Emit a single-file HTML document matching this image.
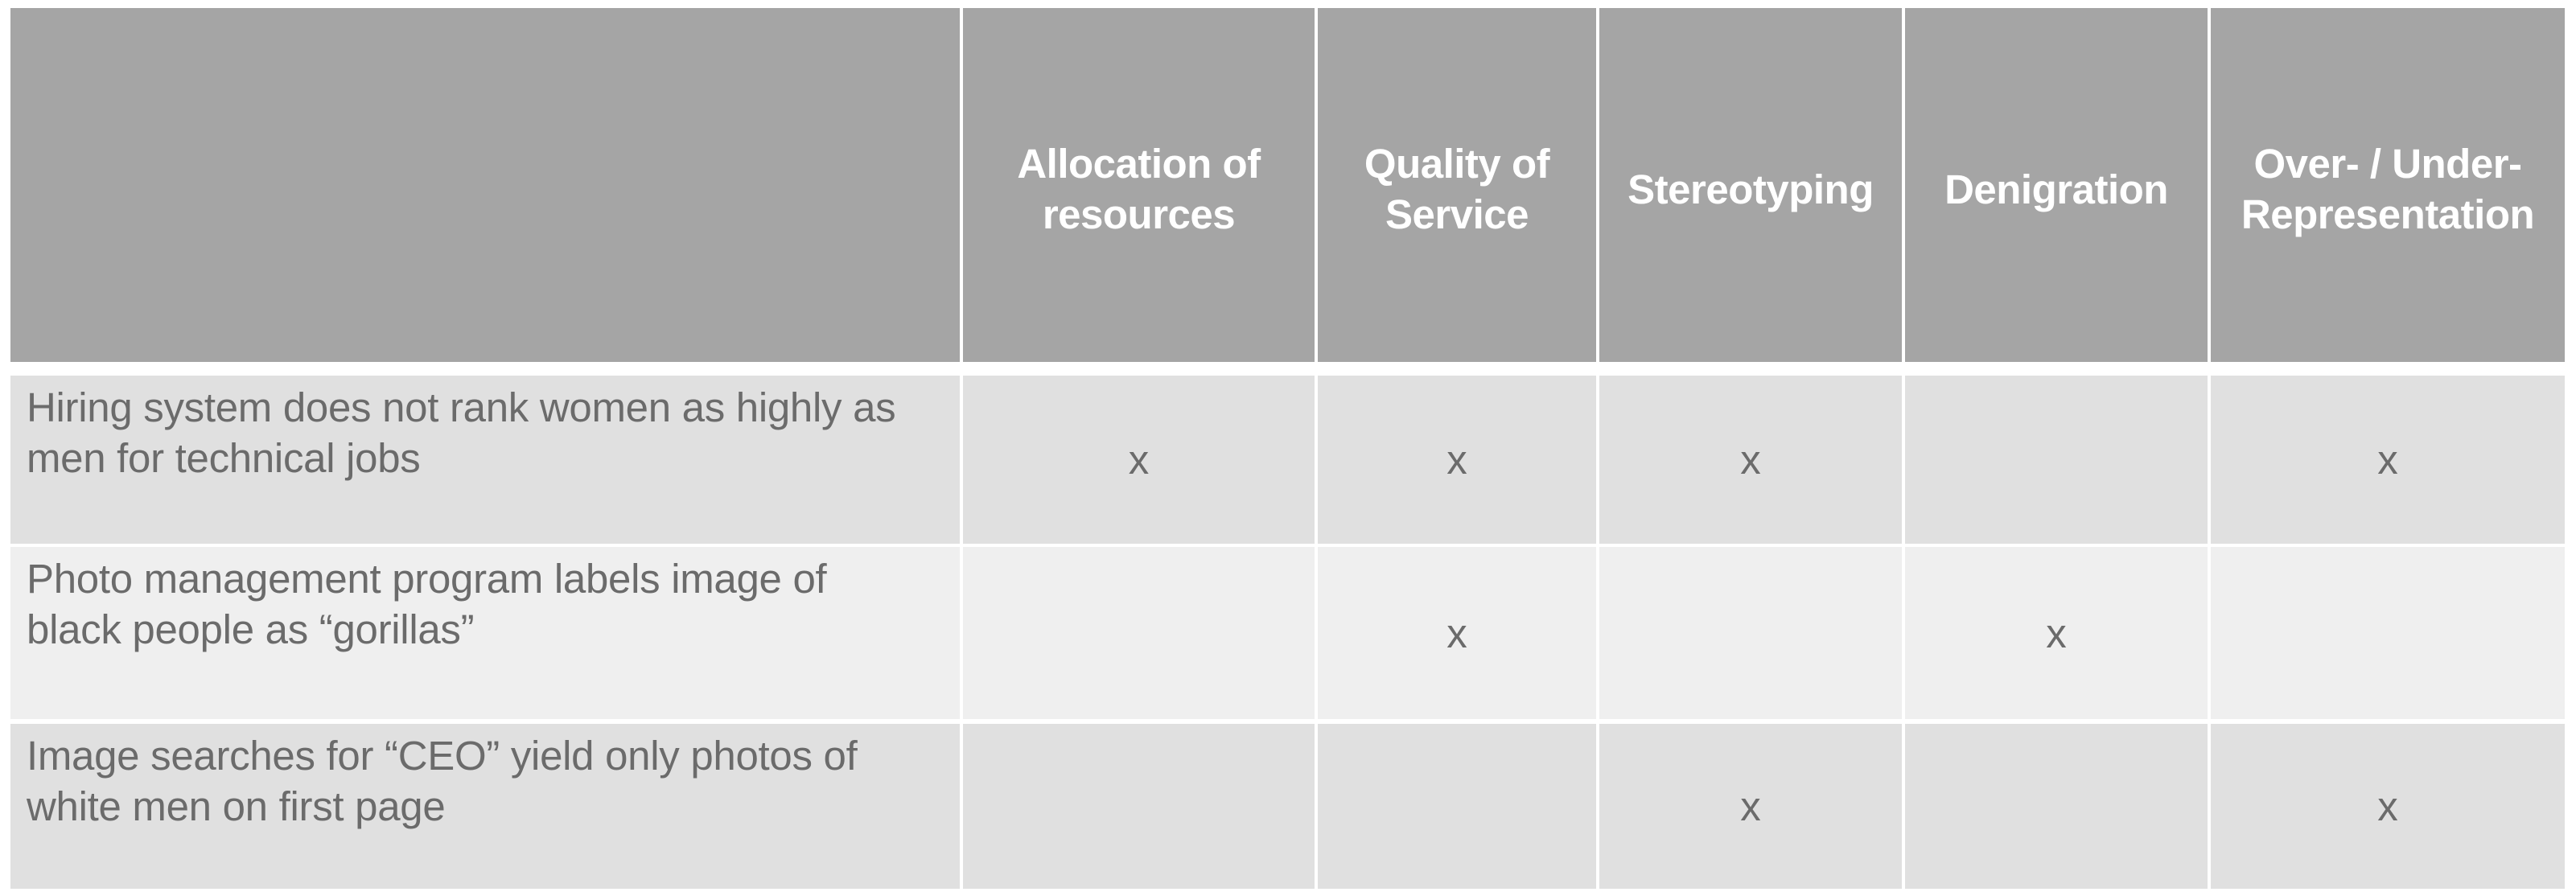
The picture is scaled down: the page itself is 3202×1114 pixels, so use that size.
<!DOCTYPE html>
<html><head><meta charset="utf-8"><style>
html,body{margin:0;padding:0;background:#fff;}
body{width:3202px;height:1114px;position:relative;overflow:hidden;font-family:"Liberation Sans",Arial,sans-serif;}
.c{position:absolute;box-sizing:border-box;}
.h{background:#a5a5a5;color:#fff;font-weight:bold;font-size:51px;line-height:63px;display:flex;align-items:center;justify-content:center;text-align:center;padding-top:10px;letter-spacing:-0.5px;}
.r{color:#6b6b6b;font-size:51px;line-height:63px;}
.d{display:flex;align-items:center;justify-content:center;}
.t{padding:8px 0 0 20px;white-space:nowrap;letter-spacing:-0.3px;}
</style></head><body>
<script>
const cats=["Allocation of<br>resources","Quality of<br>Service","Stereotyping","Denigration","Over- / Under-<br>Representation"];
const rowsText=["Hiring system does not rank women as highly as<br>men for technical jobs","Photo management program labels image of<br>black people as “gorillas”","Image searches for “CEO” yield only photos of<br>white men on first page"];
const marks=[[1,1,1,0,1],[0,1,0,1,0],[0,0,1,0,1]];
const colX=[13,1197,1638,1988,2368,2748];
const colR=[1193,1634,1984,2364,2744,3188];
const rowY=[467,680,900];
const rowB=[676,894,1105];
const rowBg=["#e0e0e0","#efefef","#e0e0e0"];
function add(cls,x,y,w,h,html,bg){const d=document.createElement('div');d.className='c '+cls;d.style.left=x+'px';d.style.top=y+'px';d.style.width=w+'px';d.style.height=h+'px';if(bg)d.style.background=bg;d.innerHTML=html;document.body.appendChild(d);return d;}
let e=add('h',colX[0],10,colR[0]-colX[0],440,'');


cats.forEach((c,i)=>{const el=add('h',colX[i+1],10,colR[i+1]-colX[i+1],440,c);

});
rowsText.forEach((t,r)=>{
 const el=add('r t',colX[0],rowY[r],colR[0]-colX[0],rowB[r]-rowY[r],t,rowBg[r]);
 
 
 marks[r].forEach((m,i)=>{const cell=add('r d',colX[i+1],rowY[r],colR[i+1]-colX[i+1],rowB[r]-rowY[r],m?'x':'',rowBg[r]);
 
 });
});
</script>
</body></html>
